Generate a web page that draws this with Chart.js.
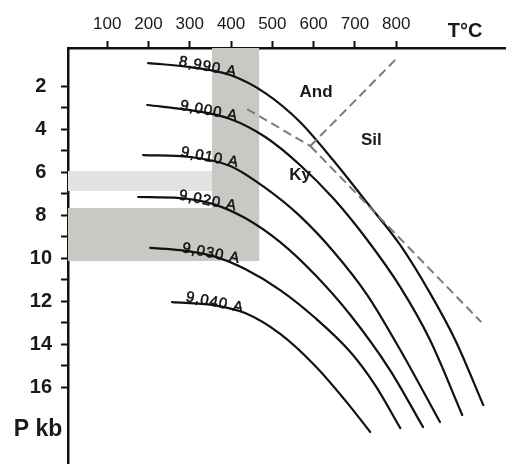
<!DOCTYPE html>
<html>
<head>
<meta charset="utf-8">
<script src="https://cdn.jsdelivr.net/npm/chart.js@4.4.1/dist/chart.umd.min.js"></script>
<style>
  html, body { margin: 0; padding: 0; background: #fff; }
</style>
</head>
<body>
<canvas id="chart" width="506" height="464"></canvas>
<script>
/* ==========================
   Data
   ========================== */
const T_MIN = 5;
const T_MAX = 1066;
const P_MIN = 0.23;
const P_MAX = 19.58;

const xTicks = [100, 200, 300, 400, 500, 600, 700, 800];
const yTicks = [2, 3, 4, 5, 6, 7, 8, 9, 10, 11, 12, 13, 14, 15, 16];

// isopleths, T in °C, P in kb
const isoNames = ["8,990 A", "9,000 A", "9,010 A", "9,020 A", "9,030 A", "9,040 A"];

const tempC1 = [199, 301, 398, 483, 567, 647, 730, 810, 882, 943, 1011];
const presKb1 = [0.93, 1.12, 1.49, 2.33, 3.67, 5.44, 7.44, 9.4, 11.63, 13.81, 16.84];

const tempC2 = [197, 301, 398, 483, 567, 647, 730, 810, 882, 960];
const presKb2 = [2.88, 3.12, 3.53, 4.37, 5.67, 7.21, 9.16, 11.35, 13.81, 17.3];

const tempC3 = [187, 301, 398, 483, 567, 647, 730, 810, 906];
const presKb3 = [5.21, 5.3, 5.72, 6.74, 8.05, 9.67, 11.72, 14.28, 17.63];

const tempC4 = [175, 277, 357, 434, 519, 604, 689, 785, 865];
const presKb4 = [7.16, 7.21, 7.49, 8.14, 9.26, 10.79, 12.65, 15.21, 17.86];

const tempC5 = [204, 277, 357, 434, 519, 604, 689, 749, 810];
const presKb5 = [9.53, 9.63, 9.91, 10.51, 11.49, 12.79, 14.37, 15.91, 17.91];

const tempC6 = [257, 357, 434, 519, 604, 680, 737];
const presKb6 = [12.05, 12.19, 12.56, 13.53, 15.02, 16.7, 18.09];

// label anchors (baseline centre) on each isopleth
const isoLabelT = [342, 345, 347, 342, 350, 359];
const isoLabelP = [1.3, 3.35, 5.51, 7.53, 9.98, 12.26];

// Al2SiO5 reactions (dashed)
const kyAndT = [439, 592];
const kyAndP = [3.07, 4.79];
const andSilT = [592, 802];
const andSilP = [4.79, 0.7];
const kySilT = [592, 1006];
const kySilP = [4.79, 12.98];

const phaseNames = ["And", "Sil", "Ky"];
const phaseT = [606, 740, 567];
const phaseP = [2.28, 4.51, 6.14];

// shaded ranges
const bandTempT = [354, 468, 468, 354];
const bandTempP = [P_MIN, P_MIN, 10.14, 10.14];
const bandLightT = [T_MIN, 354, 354, T_MIN];
const bandLightP = [5.95, 5.95, 6.88, 6.88];
const bandDarkT = [T_MIN, 468, 468, T_MIN];
const bandDarkP = [7.67, 7.67, 10.14, 10.14];

/* ==========================
   Helpers
   ========================== */
const FONT = "'Liberation Sans', Arial, Helvetica, sans-serif";
const pts = (xs, ys) => xs.map((x, i) => ({ x, y: ys[i] }));

const curve = (xs, ys) => ({
  data: pts(xs, ys),
  borderColor: "#111",
  borderWidth: 2.2,
  pointRadius: 0,
  fill: false,
  cubicInterpolationMode: "monotone",
  borderCapStyle: "round",
  order: 1
});

const dashed = (xs, ys) => ({
  data: pts(xs, ys),
  borderColor: "#7a7a7a",
  borderWidth: 2,
  borderDash: [9, 5],
  pointRadius: 0,
  fill: false,
  tension: 0,
  order: 0
});

const band = (xs, ys, color) => ({
  data: pts(xs, ys),
  borderWidth: 0,
  borderColor: "rgba(0,0,0,0)",
  backgroundColor: color,
  pointRadius: 0,
  fill: "shape",
  tension: 0,
  order: 5
});

/* ==========================
   Text layer
   ========================== */
const textLayer = {
  id: "textLayer",
  afterDatasetsDraw(chart) {
    const { ctx, scales: { x, y } } = chart;
    ctx.save();
    ctx.fillStyle = "#111";
    ctx.strokeStyle = "#111";
    ctx.lineWidth = 0.5;

    // isopleth labels sitting on their curves
    ctx.font = "15px " + FONT;
    ctx.letterSpacing = "1px";
    ctx.textAlign = "center";
    ctx.textBaseline = "alphabetic";
    isoNames.forEach((name, i) => {
      ctx.save();
      ctx.translate(x.getPixelForValue(isoLabelT[i]), y.getPixelForValue(isoLabelP[i]));
      ctx.rotate((11 * Math.PI) / 180);
      ctx.fillText(name, 0, 0);
      ctx.strokeText(name, 0, 0);
      ctx.restore();
    });
    ctx.letterSpacing = "0px";

    // phase fields
    ctx.fillStyle = "#1a1a1a";
    ctx.font = "bold 17px " + FONT;
    ctx.textBaseline = "middle";
    phaseNames.forEach((name, i) => {
      ctx.fillText(name, x.getPixelForValue(phaseT[i]), y.getPixelForValue(phaseP[i]));
    });

    // axis titles
    ctx.font = "bold 20px " + FONT;
    ctx.textBaseline = "alphabetic";
    ctx.fillText("T°C", 465, 37);
    ctx.font = "bold 23px " + FONT;
    ctx.fillText("P kb", 38, 436);
    ctx.restore();
  }
};

/* ==========================
   Chart
   ========================== */
new Chart(document.getElementById("chart"), {
  type: "line",
  data: {
    datasets: [
      curve(tempC1, presKb1),
      curve(tempC2, presKb2),
      curve(tempC3, presKb3),
      curve(tempC4, presKb4),
      curve(tempC5, presKb5),
      curve(tempC6, presKb6),
      dashed(kyAndT, kyAndP),
      dashed(andSilT, andSilP),
      dashed(kySilT, kySilP),
      band(bandTempT, bandTempP, "#c8c9c5"),
      band(bandDarkT, bandDarkP, "#c8c9c5"),
      band(bandLightT, bandLightP, "#e2e2e2")
    ]
  },
  options: {
    responsive: false,
    animation: false,
    devicePixelRatio: 1,
    layout: { padding: 0 },
    plugins: { legend: { display: false }, tooltip: { enabled: false } },
    scales: {
      x: {
        type: "linear",
        position: "top",
        min: T_MIN,
        max: T_MAX,
        z: 1,
        afterBuildTicks: (s) => { s.ticks = xTicks.map((v) => ({ value: v })); },
        afterFit: (s) => { s.height = 48; s.paddingLeft = 0; s.paddingRight = 0; },
        ticks: {
          autoSkip: false,
          maxRotation: 0,
          padding: 6,
          color: "#1a1a1a",
          font: { family: FONT, size: 17 }
        },
        grid: { drawOnChartArea: false, tickLength: 7, tickWidth: 2, tickColor: "#111" },
        border: { color: "#111", width: 2.5 }
      },
      y: {
        type: "linear",
        reverse: true,
        min: P_MIN,
        max: P_MAX,
        z: 1,
        afterBuildTicks: (s) => { s.ticks = yTicks.map((v) => ({ value: v })); },
        afterFit: (s) => { s.width = 68; s.paddingTop = 0; s.paddingBottom = 0; },
        ticks: {
          autoSkip: false,
          padding: 9,
          crossAlign: "center",
          color: "#1a1a1a",
          font: { family: FONT, size: 20, weight: "bold" },
          callback: (v) => (v % 2 === 0 ? v : "")
        },
        grid: { drawOnChartArea: false, tickLength: 7, tickWidth: 2, tickColor: "#111" },
        border: { color: "#111", width: 2.5 }
      }
    }
  },
  plugins: [textLayer]
});
</script>
</body>
</html>
